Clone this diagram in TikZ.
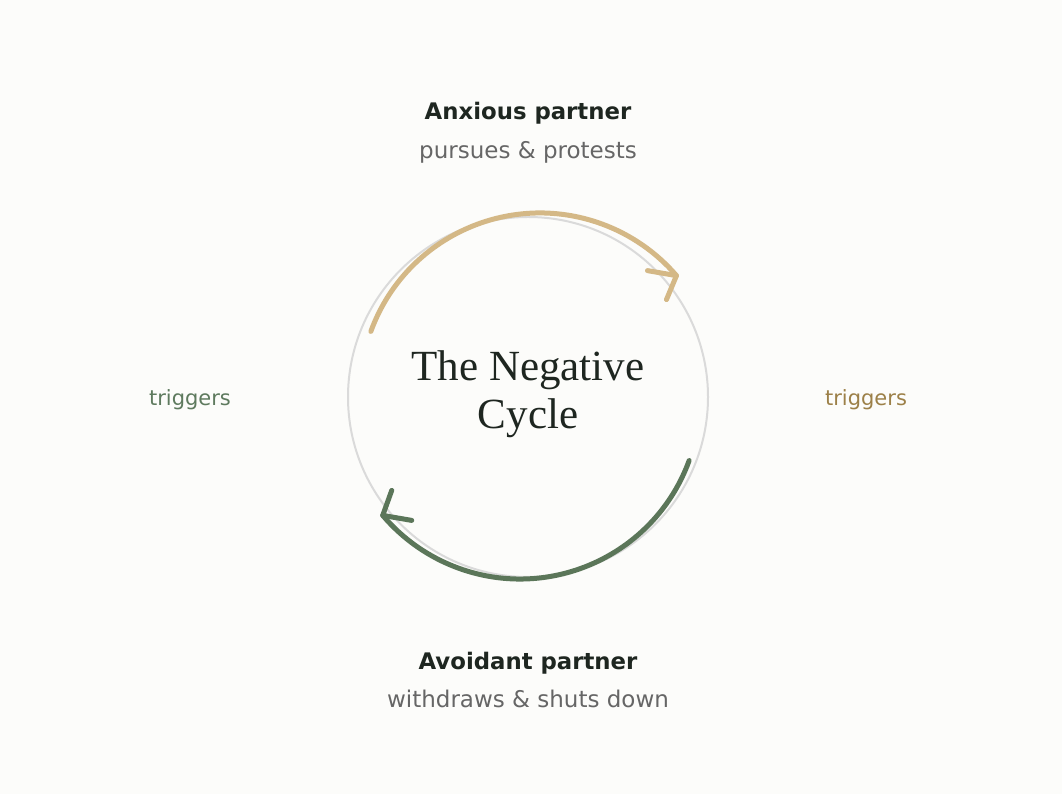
\documentclass[tikz,border=0pt]{standalone}
\usepackage{fontspec}
\setmainfont{Liberation Serif}
\setsansfont{DejaVu Sans}
\usetikzlibrary{calc}
\definecolor{bg}{HTML}{FCFCFA}
\definecolor{ink}{HTML}{1E2620}
\definecolor{subgrey}{HTML}{666666}
\definecolor{ringgrey}{HTML}{DADADA}
\definecolor{tanarc}{HTML}{D4B886}
\definecolor{tantext}{HTML}{9C8048}
\definecolor{greenarc}{HTML}{5B7659}
\definecolor{greentext}{HTML}{5E7A5E}
\tikzset{
  headtext/.style={font=\sffamily\bfseries\fontsize{22.8}{27}\selectfont, text=ink, inner sep=0pt},
  subtext/.style={font=\sffamily\fontsize{23}{27}\selectfont, text=subgrey, inner sep=0pt},
  trig/.style={font=\sffamily\fontsize{21}{25}\selectfont, inner sep=0pt},
  titletext/.style={font=\fontsize{43}{48}\selectfont, text=ink, align=center, inner sep=0pt},
  cyclearc/.style={line width=5pt, line cap=round, line join=round},
}
\begin{document}
\begin{tikzpicture}[x=1pt,y=1pt]
  \fill[bg] (0,0) rectangle (1062,794);
  \useasboundingbox (0,0) rectangle (1062,794);
  \coordinate (ringc) at (528,397);
  \draw[ringgrey, line width=2pt] (ringc) circle[radius=180];
  % tan arc
  \coordinate (tanstart) at ($(540,401)+(160:180)$);
  \coordinate (tantip) at ($(540,401)+(40.7:180)$);
  \draw[cyclearc, tanarc] (tanstart) arc[start angle=160, end angle=40.7, radius=180];
  \draw[cyclearc, tanarc] ($(tantip)+(-29,5)$) -- (tantip) -- ++(-10,-24);
  % green arc
  \coordinate (greenstart) at ($(520,395)+(-20:180)$);
  \coordinate (greentip) at ($(520,395)+(-139.7:180)$);
  \draw[cyclearc, greenarc] (greenstart) arc[start angle=-20, end angle=-139.7, radius=180];
  \draw[cyclearc, greenarc] ($(greentip)+(9,25)$) -- (greentip) -- ++(29,-5);
  \node[titletext] (title) at (528,400) {The Negative\\Cycle};
  \node[headtext] (anx) at (528,681) {Anxious partner};
  \node[subtext] (anxsub) at (528,642) {pursues \& protests};
  \node[headtext] (avo) at (528,131) {Avoidant partner};
  \node[subtext] (avosub) at (528,95) {withdraws \& shuts down};
  \node[trig, text=greentext] (trigl) at (190,394) {triggers};
  \node[trig, text=tantext] (trigr) at (866,394) {triggers};
\end{tikzpicture}
\end{document}
